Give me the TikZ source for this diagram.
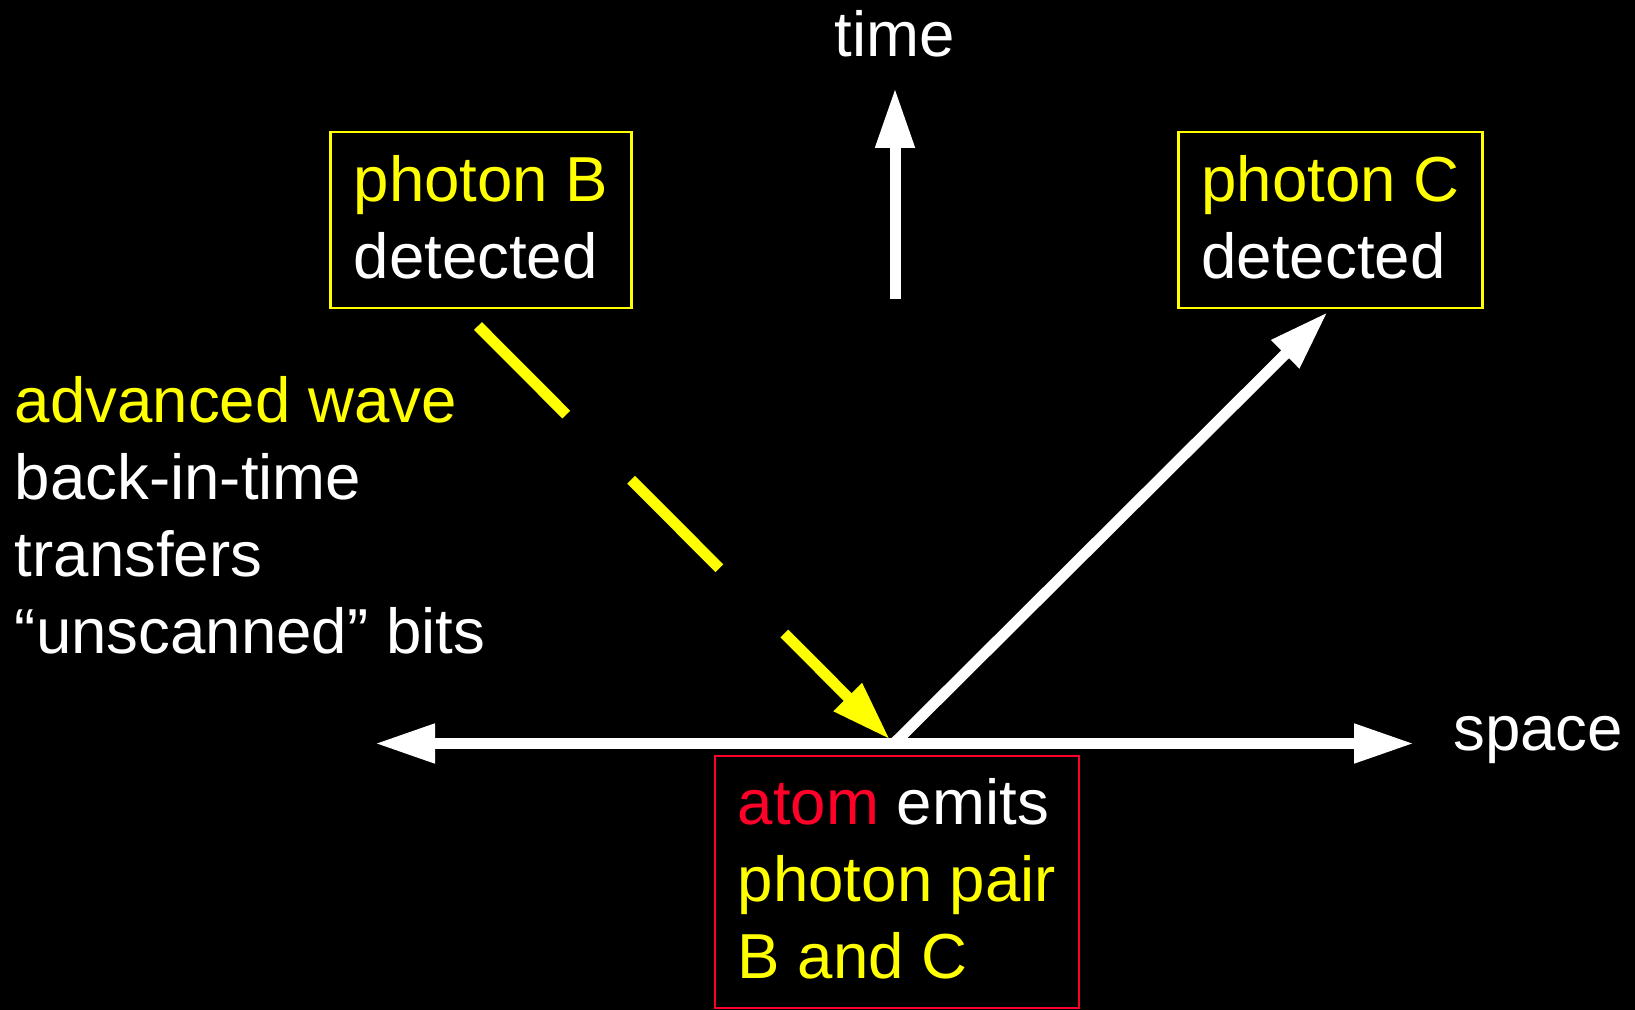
\documentclass[tikz,border=0pt]{standalone}
\usepackage{fontspec}
\setmainfont{Liberation Sans}
\usetikzlibrary{arrows.meta}
\definecolor{hiyellow}{RGB}{255,255,0}
\definecolor{atomred}{RGB}{255,0,40}
\tikzset{
  label text/.style={font=\fontsize{31.8pt}{38.5pt}\selectfont, text=white, inner sep=0pt},
  event box/.style={label text, draw=hiyellow, line width=1.2pt, align=left, inner xsep=11.5pt, inner ysep=0pt, text depth=3.5pt, minimum height=88pt},
  world line/.style={line width=5.5pt, -{Triangle[length=30pt, width=18.5pt]}},
}
\begin{document}
\begin{tikzpicture}[x=0.5pt, y=-0.5pt]
  \useasboundingbox (0,0) rectangle (1635,1010);
  \fill[black] (0,0) rectangle (1635,1010);
  % points on the diagram
  \coordinate (O) at (894,743.5);
  \coordinate (L) at (375,743.5);
  \coordinate (R) at (1414,743.5);
  \coordinate (T0) at (895,299);
  \coordinate (T1) at (895,88);
  \coordinate (W) at (478,326);
  % labels
  \node[label text, anchor=base] (time) at (895,57) {time};
  \node[label text, anchor=base west] (space) at (1453,750) {space};
  \node[event box] (boxB) at (481,220) {\textcolor{hiyellow}{photon B}\\detected};
  \node[event box] (boxC) at (1330.5,220) {\textcolor{hiyellow}{photon C}\\detected};
  \node[event box, draw=atomred, minimum height=126pt] (atom) at (897,882)
    {\textcolor{atomred}{atom} emits\\\textcolor{hiyellow}{photon pair}\\\textcolor{hiyellow}{B and C}};
  \node[label text, align=left, anchor=north west] (wave) at (14.5,375.7)
    {\textcolor{hiyellow}{advanced wave}\\back-in-time\\transfers\\“unscanned” bits};
  % axes
  \draw[white, line width=5.5pt, {Triangle[length=30pt, width=18.5pt]}-{Triangle[length=30pt, width=18.5pt]}] (L) -- (R);
  \draw[world line, white] (T0) -- (T1);
  % photon paths
  \draw[world line, white, shorten >=2pt] (O) -- (boxC.south);
  \draw[world line, hiyellow, dash pattern=on 62.5pt off 46pt, shorten >=2.8pt] (W) -- (O);
\end{tikzpicture}
\end{document}
